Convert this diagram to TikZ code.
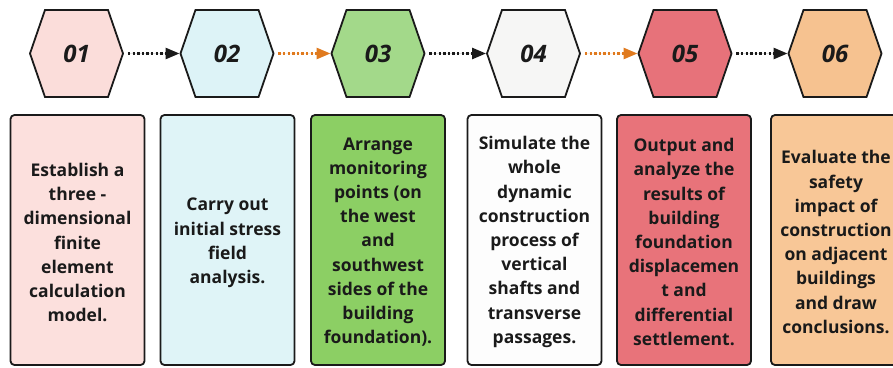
\documentclass[tikz,border=0pt]{standalone}
\usepackage{fontspec}
\setmainfont{Open Sans}
\usetikzlibrary{arrows.meta,shapes.symbols}

\definecolor{inkc}{HTML}{1A1A1A}
\definecolor{fillA}{HTML}{FBDDDA}
\definecolor{fillB}{HTML}{DDF3F7}
\definecolor{fillC}{HTML}{A3D98A}
\definecolor{fillD}{HTML}{F6F6F5}
\definecolor{fillE}{HTML}{E7727A}
\definecolor{fillF}{HTML}{F6C290}
\definecolor{boxA}{HTML}{FCE0DD}
\definecolor{boxB}{HTML}{DFF4F7}
\definecolor{boxC}{HTML}{8CCF64}
\definecolor{boxD}{HTML}{FDFDFD}
\definecolor{boxE}{HTML}{E8737A}
\definecolor{boxF}{HTML}{F8C797}
\definecolor{flowO}{HTML}{E07A1E}

\tikzset{
  hexstep/.style={signal, signal to=west and east, signal pointer angle=142,
    draw=inkc, line width=1.8pt, minimum width=93pt, minimum height=87pt,
    inner sep=0pt, font=\fontsize{24}{28}\selectfont\bfseries\itshape, text=inkc},
  descbox/.style={draw=inkc, line width=1.8pt, rounded corners=4pt,
    minimum width=134pt, minimum height=250pt, inner sep=0pt},
  desctext/.style={align=center, text=inkc,
    font=\fontsize{17.5}{24.2}\selectfont\bfseries},
  flow/.style={line width=2.6pt, dash pattern=on 2.4pt off 2.2pt,
    -{Triangle[length=14pt,width=11pt]}, shorten <=4pt},
}

\begin{document}
\begin{tikzpicture}[x=1pt,y=-1pt]
\useasboundingbox (0,0) rectangle (893,367);
\fill[white] (0,0) rectangle (893,367);
\clip (0,0) rectangle (893,367);

% step hexagons
\node[hexstep, fill=fillA] (h1) at (76.5,53.5) {01};
\node[hexstep, fill=fillB] (h2) at (227,53.5) {02};
\node[hexstep, fill=fillC] (h3) at (378,53.5) {03};
\node[hexstep, fill=fillD] (h4) at (533.5,53.5) {04};
\node[hexstep, fill=fillE] (h5) at (685,53.5) {05};
\node[hexstep, fill=fillF] (h6) at (835,53.5) {06};

% dotted connectors
\draw[flow, draw=inkc, fill=inkc] (h1.east) -- (h2.west);
\draw[flow, draw=flowO, fill=flowO] (h2.east) -- (h3.west);
\draw[flow, draw=inkc, fill=inkc] (h3.east) -- (h4.west);
\draw[flow, draw=flowO, fill=flowO] (h4.east) -- (h5.west);
\draw[flow, draw=inkc, fill=inkc] (h5.east) -- (h6.west);

% description boxes
\node[descbox, fill=boxA] (b1) at (77.5,240) {};
\node[descbox, fill=boxB] (b2) at (227.5,240) {};
\node[descbox, fill=boxC] (b3) at (378,240) {};
\node[descbox, fill=boxD] (b4) at (534.5,240) {};
\node[descbox, fill=boxE] (b5) at (684,240) {};
\node[descbox, fill=boxF] (b6) at (838,240) {};

\node[desctext] (t1) at (77.5,242.5) {Establish a\\three -\\dimensional\\finite\\element\\calculation\\model.};
\node[desctext] (t2) at (227.5,243) {Carry out\\initial stress\\field\\analysis.};
\node[desctext] (t3) at (378,242) {Arrange\\monitoring\\points (on\\the west\\and\\southwest\\sides of the\\building\\foundation).};
\node[desctext] (t4) at (534.5,242) {Simulate the\\whole\\dynamic\\construction\\process of\\vertical\\shafts and\\transverse\\passages.};
\node[desctext] (t5) at (684,242) {Output and\\analyze the\\results of\\building\\foundation\\displacemen\\t and\\differential\\settlement.};
\node[desctext] (t6) at (836,242) {Evaluate the\\safety\\impact of\\construction\\on adjacent\\buildings\\and draw\\conclusions.};
\end{tikzpicture}
\end{document}
